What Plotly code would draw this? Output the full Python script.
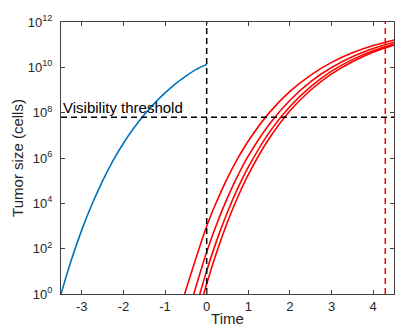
import math
import plotly.graph_objects as go

# Blue curve (before diagnosis): time and log10(tumor size)
blue_t = [-3.5, -3.25, -3.0, -2.75, -2.5, -2.25, -2.0, -1.75, -1.5, -1.25, -1.0, -0.75, -0.5, -0.25, 0.0]
blue_log = [0.0, 1.51, 2.83, 3.98, 4.99, 5.88, 6.65, 7.32, 7.91, 8.42, 8.87, 9.27, 9.61, 9.91, 10.12]

# Red curves (regrowth): time and log10(tumor size)
red_a_t = [-0.53, 0.0, 0.25, 0.5, 0.75, 1.0, 1.5, 2.0, 2.5, 3.0, 3.5, 4.0, 4.5]
red_a_log = [0.0, 2.99, 4.12, 5.12, 5.99, 6.75, 7.99, 8.94, 9.66, 10.22, 10.64, 10.96, 11.21]
red_b_t = [-0.31, 0.0, 0.25, 0.5, 0.75, 1.0, 1.5, 2.0, 2.5, 3.0, 3.5, 4.0, 4.5]
red_b_log = [0.0, 1.85, 3.13, 4.25, 5.23, 6.09, 7.48, 8.55, 9.37, 9.99, 10.47, 10.83, 11.11]
red_c_t = [-0.165, 0.0, 0.25, 0.5, 0.75, 1.0, 1.5, 2.0, 2.5, 3.0, 3.5, 4.0, 4.5]
red_c_log = [0.0, 1.02, 2.41, 3.62, 4.68, 5.60, 7.12, 8.27, 9.15, 9.83, 10.34, 10.73, 11.03]
red_d_t = [-0.07, 0.0, 0.25, 0.5, 0.75, 1.0, 1.5, 2.0, 2.5, 3.0, 3.5, 4.0, 4.5]
red_d_log = [0.0, 0.45, 1.90, 3.18, 4.29, 5.27, 6.86, 8.08, 9.00, 9.71, 10.25, 10.67, 10.98]

threshold = 6.3e7
diagnosis_t = 0.0
end_t = 4.29

x_range = [-3.5, 4.5]
y_range_log = [0, 12]
x_ticks = [-3, -2, -1, 0, 1, 2, 3, 4]
y_tick_exps = [0, 2, 4, 6, 8, 10, 12]

BLUE = "#0072BD"
RED = "#FF0000"
AX = "#404040"
FONT = "Liberation Sans, Arial, sans-serif"

fig = go.Figure()
fig.add_trace(go.Scatter(x=blue_t, y=[10 ** v for v in blue_log], mode="lines",
                         line=dict(color=BLUE, width=1.6, shape="spline"), showlegend=False))
for tt, ll in [(red_a_t, red_a_log), (red_b_t, red_b_log), (red_c_t, red_c_log), (red_d_t, red_d_log)]:
    fig.add_trace(go.Scatter(x=tt, y=[10 ** v for v in ll], mode="lines",
                             line=dict(color=RED, width=1.6, shape="spline"), showlegend=False))

# dashed reference lines
fig.add_trace(go.Scatter(x=x_range, y=[threshold, threshold], mode="lines",
                         line=dict(color="black", width=1.5, dash="6px,4px"), showlegend=False))
fig.add_trace(go.Scatter(x=[diagnosis_t, diagnosis_t], y=[10 ** y_range_log[0], 10 ** y_range_log[1]], mode="lines",
                         line=dict(color="black", width=1.5, dash="6px,4px"), showlegend=False))
fig.add_trace(go.Scatter(x=[end_t, end_t], y=[10 ** y_range_log[0], 10 ** y_range_log[1]], mode="lines",
                         line=dict(color=RED, width=1.5, dash="6px,4px"), showlegend=False))

fig.add_annotation(x=x_range[0], y=math.log10(threshold), xref="x", yref="y", text="Visibility threshold",
                   showarrow=False, xanchor="left", yanchor="bottom", xshift=0, yshift=-1,
                   font=dict(family=FONT, size=15, color="#000000"))

fig.update_xaxes(range=x_range, tickvals=x_ticks, ticktext=[str(v) for v in x_ticks],
                 ticks="inside", ticklen=4, tickcolor=AX, showline=True, linecolor=AX, linewidth=1,
                 mirror="ticks", showgrid=False, zeroline=False,
                 tickfont=dict(family=FONT, size=13, color="#262626"),
                 title=dict(text="Time", font=dict(family=FONT, size=15, color="#262626"), standoff=0))
fig.update_yaxes(type="log", range=y_range_log, tickvals=[10 ** e for e in y_tick_exps],
                 ticktext=["10<sup>%d</sup>" % e for e in y_tick_exps],
                 ticks="inside", ticklen=4, tickcolor=AX, showline=True, linecolor=AX, linewidth=1,
                 mirror="ticks", showgrid=False, zeroline=False, ticklabelstandoff=5,
                 tickfont=dict(family=FONT, size=13, color="#262626"),
                 title=dict(text="Tumor size (cells)", font=dict(family=FONT, size=15, color="#262626"), standoff=0))

fig.update_layout(width=395, height=329, margin=dict(l=61, r=1, t=22, b=35, autoexpand=False),
                  plot_bgcolor="white", paper_bgcolor="white")

fig.write_html("out.html", config={"displayModeBar": False},
               post_script="document.body.style.margin='0';document.body.style.padding='0';")
